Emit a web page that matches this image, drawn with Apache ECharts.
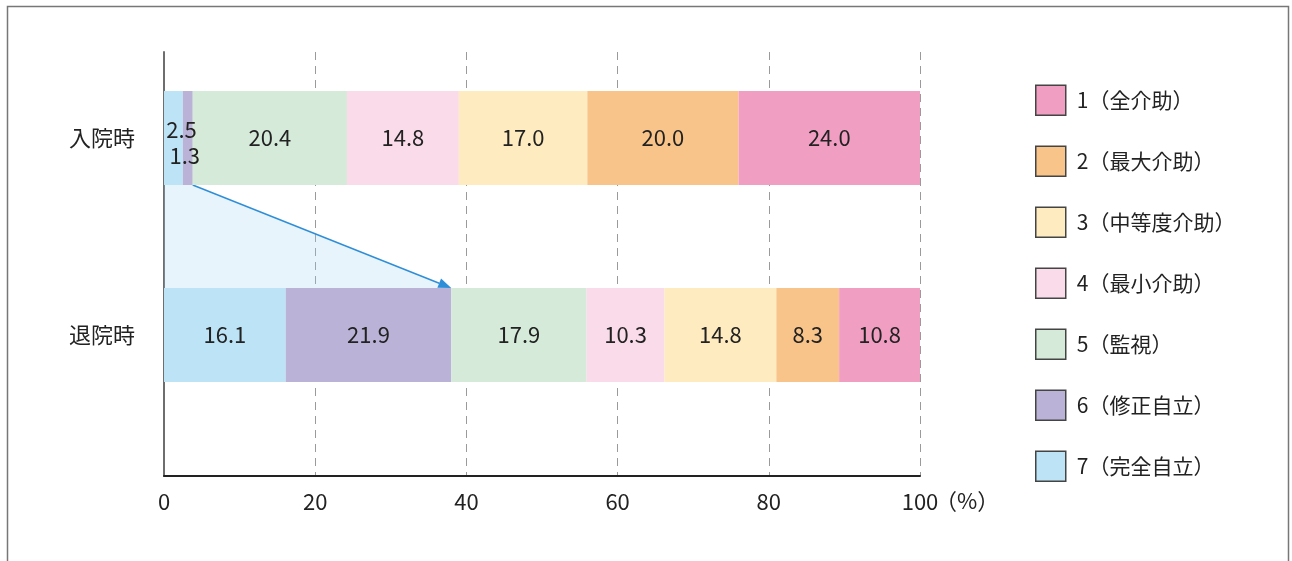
<!DOCTYPE html>
<html><head><meta charset="utf-8">
<script src="https://cdn.jsdelivr.net/npm/echarts@6/dist/echarts.min.js"></script>
<style>html,body{margin:0;padding:0;background:#fff}#c{width:1292px;height:561px}</style>
</head><body><div id="c"></div>
<script>
var categories = ['入院時', '退院時'];
var seriesNames = ['7（完全自立）', '6（修正自立）', '5（監視）', '4（最小介助）', '3（中等度介助）', '2（最大介助）', '1（全介助）'];
var v7 = [2.5, 16.1];
var v6 = [1.3, 21.9];
var v5 = [20.4, 17.9];
var v4 = [14.8, 10.3];
var v3 = [17.0, 14.8];
var v2 = [20.0, 8.3];
var v1 = [24.0, 10.8];
var xTicks = [0, 20, 40, 60, 80, 100];
var colors = ['#bde3f6', '#bab2d7', '#d5ead8', '#fadbea', '#feebbf', '#f8c489', '#f19ec3'];
var values = [v7, v6, v5, v4, v3, v2, v1];

var FONT = '"Noto Sans CJK JP", "Noto Sans", sans-serif';
var BW = 94;
var chart = echarts.init(document.getElementById('c'));

var barSeries = values.map(function (vals, i) {
  return {
    name: seriesNames[i],
    type: 'bar',
    stack: 'total',
    xAxisIndex: 1, yAxisIndex: 1,
    barWidth: BW,
    itemStyle: { color: colors[i] },
    label: {
      show: true, position: 'inside', fontFamily: FONT, fontSize: 22, color: '#222',
      formatter: function (p) { return Number(p.value).toFixed(1); }
    },
    data: vals.map(function (v, j) {
      var d = { value: v };
      if (j === 0 && i === 0) d.label = { offset: [8, -8] };
      if (j === 0 && i === 1) d.label = { offset: [-3, 18] };
      return d;
    })
  };
});

var joinA = v7[0] + v6[0];
var joinB = v7[1] + v6[1];

var connector = {
  type: 'custom',
  xAxisIndex: 1, yAxisIndex: 1,
  silent: true,
  z: 1,
  data: [[joinA, joinB]],
  renderItem: function (params, api) {
    var a = api.coord([api.value(0), 0]);
    var b = api.coord([api.value(1), 1]);
    var o0 = api.coord([0, 0]);
    var o1 = api.coord([0, 1]);
    var h = BW / 2;
    var y1 = a[1] + h, y2 = b[1] - h;
    var ang = Math.atan2(y2 - y1, b[0] - a[0]);
    var L = 13, W = 5;
    var tip = [b[0], y2];
    var base = [tip[0] - L * Math.cos(ang), tip[1] - L * Math.sin(ang)];
    var nx = -Math.sin(ang), ny = Math.cos(ang);
    return {
      type: 'group',
      children: [
        { type: 'polygon', shape: { points: [[o0[0], y1], [a[0], y1], [b[0], y2], [o1[0], y2]] },
          style: { fill: 'rgba(160,210,240,0.24)' } },
        { type: 'line', shape: { x1: a[0], y1: y1, x2: base[0], y2: base[1] },
          style: { stroke: '#2f8ed8', lineWidth: 1.5 } },
        { type: 'polygon', shape: { points: [tip, [base[0] + nx * W, base[1] + ny * W], [base[0] - nx * W, base[1] - ny * W]] },
          style: { fill: '#2f8ed8' } }
      ]
    };
  }
};

var option = {
  animation: false,
  backgroundColor: '#fff',
  textStyle: { fontFamily: FONT },
  grid: [
    { left: 164, top: 52, width: 756, height: 424 },
    { left: 164, top: 39.5, width: 756, height: 394 }
  ],
  xAxis: [
    { gridIndex: 0, type: 'value', min: 0, max: 100, interval: 20,
      axisLine: { show: true, lineStyle: { color: '#222', width: 2 } },
      axisTick: { show: false },
      axisLabel: { fontFamily: FONT, fontSize: 22, color: '#222', margin: 15,
        formatter: function (v) { return xTicks.indexOf(v) >= 0 ? String(v) : ''; } },
      splitLine: { show: true, lineStyle: { color: '#9a9a9a', type: [8, 6], width: 1 } } },
    { gridIndex: 1, type: 'value', min: 0, max: 100, show: false, splitLine: { show: false } }
  ],
  yAxis: [
    { gridIndex: 0, type: 'category', data: [''],
      axisLine: { show: true, lineStyle: { color: '#6e6e6e', width: 2 } },
      axisTick: { show: false }, axisLabel: { show: false }, splitLine: { show: false } },
    { gridIndex: 1, type: 'category', inverse: true, data: categories,
      axisLine: { show: false }, axisTick: { show: false },
      axisLabel: { fontFamily: FONT, fontSize: 22, color: '#222', margin: 29 } }
  ],
  legend: {
    orient: 'vertical', left: 1035, top: 84.5, padding: 0,
    itemWidth: 30, itemHeight: 30, itemGap: 29.5,
    data: seriesNames.slice().reverse(),
    icon: 'rect',
    itemStyle: { borderColor: '#444', borderWidth: 1.5 },
    textStyle: { fontFamily: FONT, fontSize: 21, color: '#222', padding: [0, 0, 0, 6] }
  },
  graphic: [
    { type: 'rect', shape: { x: 7.5, y: 6.5, width: 1281, height: 600 },
      style: { fill: 'none', stroke: '#777', lineWidth: 1.5 }, silent: true },
    { type: 'text', left: 935, top: 490,
      style: { text: '（%）', fontFamily: FONT, fontSize: 22, fill: '#222' } }
  ],
  series: barSeries.concat([connector])
};
chart.setOption(option);
</script>
</body></html>
